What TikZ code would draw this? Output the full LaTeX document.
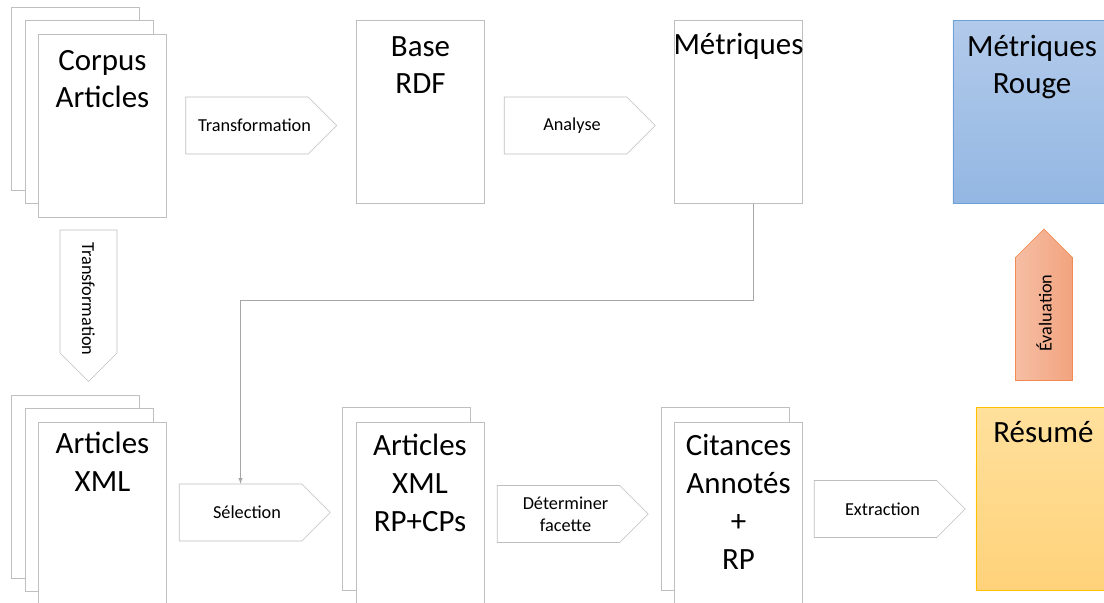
\documentclass[tikz,border=0pt]{standalone}
\usepackage{fontspec}
\setmainfont{Carlito}
\usetikzlibrary{arrows}
\usetikzlibrary{positioning}
\usetikzlibrary{shapes.symbols}
\definecolor{PageGray}{HTML}{BFBFBF}
\definecolor{LineGray}{HTML}{A6A6A6}
\definecolor{LightBlue}{HTML}{B2CAEA}
\definecolor{DarkBlue}{HTML}{93B7E3}
\definecolor{EdgeBlue}{HTML}{6F9FD8}
\definecolor{LightGold}{HTML}{FFE09C}
\definecolor{DarkGold}{HTML}{FFD27A}
\definecolor{EdgeGold}{HTML}{FFC000}
\definecolor{LightOrange}{HTML}{F6BEA4}
\definecolor{DarkOrange}{HTML}{F2A37E}
\definecolor{EdgeOrange}{HTML}{F08A52}
\tikzset{
  page/.style={draw=PageGray, fill=white, minimum width=3.2cm,
    minimum height=4.575cm, inner sep=0pt},
  bigtext/.style={font=\fontsize{22}{27}\selectfont, align=center,
    inner sep=0pt, anchor=base},
  smalltext/.style={font=\fontsize{13}{15.6}\selectfont, align=center,
    inner sep=0pt},
  fleche/.style={signal, signal to=east, signal pointer angle=90,
    draw=PageGray, fill=white, minimum width=3.775cm,
    minimum height=1.425cm, inner sep=0pt},
  flechev/.style={fleche, minimum width=1.425cm, minimum height=3.075cm}
}
\begin{document}
\begin{tikzpicture}[x=0.025cm, y=-0.025cm]
  \useasboundingbox (0,0) rectangle (1104,603);
  \clip (0,0) rectangle (1104,603);

  % ligne du haut
  \foreach \k in {2,1}{%
    \node[page] (corpus\k) at (102.5-13.5*\k,125.5-13.5*\k) {};
  }
  \node[page] (corpus) at (102.5,125.5) {};
  \node[bigtext] (corpustxt) at (102.5,108) {Corpus\\Articles};

  \node[fleche] (transfo) at (247,125.5) {};
  \node[smalltext] (transfotxt) at (254.5,125.5) {Transformation};

  \node[page] (rdf) at (420.5,112) {};
  \node[bigtext] (rdftxt) at (420.5,94) {Base\\RDF};

  \node[fleche] (analyse) at (565.5,125.5) {};
  \node[smalltext] (analysetxt) at (572,125.5) {Analyse};

  \node[page] (metriques) at (738.5,112) {};
  \node[bigtext] (metriquestxt) at (738.5,55) {Métriques};

  \node[page, draw=EdgeBlue, top color=LightBlue, bottom color=DarkBlue,
    minimum width=3.95cm] (rouge) at (1032,112) {};
  \node[bigtext] (rougetxt) at (1032,94) {Métriques\\Rouge};

  % fleches verticales
  \node[flechev, signal to=south] (transfo2) at (88.5,291.5) {};
  \node[smalltext, rotate=-90] (transfo2txt) at (88.5,299) {Transformation};
  \node[flechev, signal to=north, draw=EdgeOrange, left color=LightOrange,
    right color=DarkOrange] (evaluation) at (1044,319) {};
  \node[smalltext, rotate=90] (evaluationtxt) at (1044,313) {Évaluation};

  % ligne du bas
  \foreach \k in {2,1}{%
    \node[page] (xml\k) at (102.5-13.5*\k,513.5-13.5*\k) {};
  }
  \node[page] (xml) at (102.5,513.5) {};
  \node[bigtext] (xmltxt) at (102.5,491) {Articles\\XML};

  \node[fleche] (selection) at (240.5,512.5) {};
  \node[smalltext] (selectiontxt) at (247,512.5) {Sélection};

  \node[page] (rpcp1) at (406.5,499) {};
  \node[page] (rpcp) at (420,513.5) {};
  \node[bigtext] (rpcptxt) at (420,531) {Articles\\XML\\RP+CPs};

  \node[fleche] (facette) at (558.5,514) {};
  \node[smalltext] (facettetxt) at (565.5,514) {Déterminer\\facette};

  \node[page] (citances1) at (725,499) {};
  \node[page] (citances) at (738.5,513.5) {};
  \node[bigtext] (citancestxt) at (738.5,569) {Citances\\Annotés\\+\\RP};

  \node[fleche] (extraction) at (875.5,509) {};
  \node[smalltext] (extractiontxt) at (882.5,509) {Extraction};

  \node[page, draw=EdgeGold, top color=LightGold, bottom color=DarkGold,
    minimum width=3.375cm] (resume) at (1043.5,499) {};
  \node[bigtext] (resumetxt) at (1043.5,442) {Résumé};

  \draw[draw=LineGray, -latex] ([xshift=0.3625cm]metriques.south)
    -- ++(0,96) -| (selection.north);
\end{tikzpicture}
\end{document}
